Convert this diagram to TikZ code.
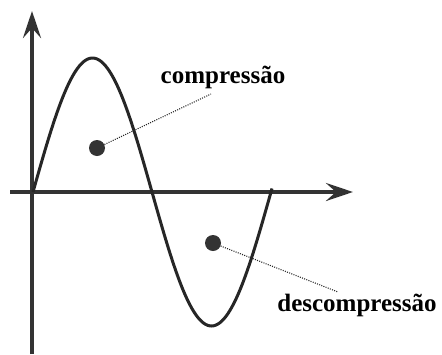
\documentclass[tikz,border=0pt]{standalone}
\usepackage{fontspec}
\setmainfont{Liberation Serif}
\usetikzlibrary{arrows.meta}
\definecolor{ink}{HTML}{333333}
\begin{document}
\begin{tikzpicture}[x=1pt,y=-1pt,
  axis/.style={line width=4.6pt,draw=ink,-{Stealth[length=27pt,width=18pt,inset=10pt]}},
  wave/.style={line width=3pt,draw=black!85},
  blob/.style={circle,fill=ink,minimum size=16pt,inner sep=0pt},
  lbl/.style={font=\bfseries\fontsize{25}{27}\selectfont,inner sep=0pt},
  lead/.style={dash pattern=on 1pt off 1.3pt,line width=1.1pt,draw=black!85}]
\useasboundingbox[fill=white] (0,0) rectangle (442,354);
\coordinate (vb) at (32,354);
\coordinate (vt) at (32,11);
\coordinate (hl) at (10,192);
\coordinate (hr) at (353,192);
\draw[axis] (vb) -- (vt);
\draw[axis] (hl) -- (hr);
\draw[wave] plot[domain=33:272,samples=120,smooth] (\x,{192-134*sin((\x-33)*1.5126)});
\node[blob] (d1) at (97,148) {};
\node[blob] (d2) at (213,243) {};
\node[lbl] (c) at (223,77) {compressão};
\node[lbl] (dc) at (357,305) {descompressão};
\coordinate (c1) at (211,94);
\coordinate (c2) at (338,292);
\draw[lead] (d1) -- (c1);
\draw[lead] (d2) -- (c2);
\end{tikzpicture}
\end{document}
